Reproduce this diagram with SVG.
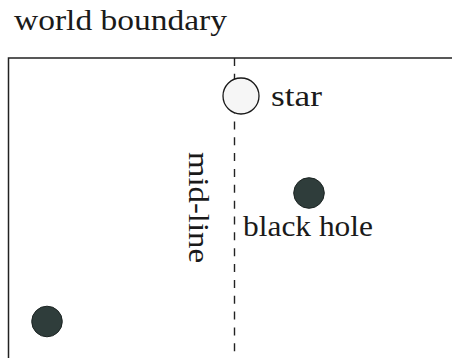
<svg xmlns="http://www.w3.org/2000/svg" width="452" height="358" viewBox="0 0 452 358">
  <style>
    .lbl { font-family: "Liberation Serif", "Times New Roman", serif; font-size: 30px; fill: #1a1a1a; }
    .bh { fill: #2f3d3b; stroke: #1c2423; stroke-width: 1; }
  </style>
  <rect width="452" height="358" fill="#ffffff"/>
  <g id="world-boundary">
    <path d="M8.5,358 V58 H452" fill="none" stroke="#222222" stroke-width="1.5"/>
    <text class="lbl" x="14" y="30" textLength="213" lengthAdjust="spacingAndGlyphs">world boundary</text>
  </g>
  <g id="connectors">
    <g id="mid-line">
      <line x1="234.5" y1="58" x2="234.5" y2="358" stroke="#222222" stroke-width="1.4" stroke-dasharray="8 7.85"/>
      <text class="lbl" transform="translate(189,152) rotate(90)" x="0" y="0" textLength="111" lengthAdjust="spacingAndGlyphs">mid-line</text>
    </g>
  </g>
  <g id="star">
    <circle cx="241" cy="96" r="18" fill="#f6f6f6" stroke="#1a1a1a" stroke-width="1.3"/>
    <text class="lbl" x="271" y="106" textLength="51" lengthAdjust="spacingAndGlyphs">star</text>
  </g>
  <g id="black-hole">
    <circle class="bh" cx="309" cy="193" r="15.3"/>
    <text class="lbl" x="243" y="235.5" textLength="130" lengthAdjust="spacingAndGlyphs">black hole</text>
  </g>
  <g id="black-hole-2">
    <circle class="bh" cx="47" cy="321.5" r="15.3"/>
  </g>
</svg>
